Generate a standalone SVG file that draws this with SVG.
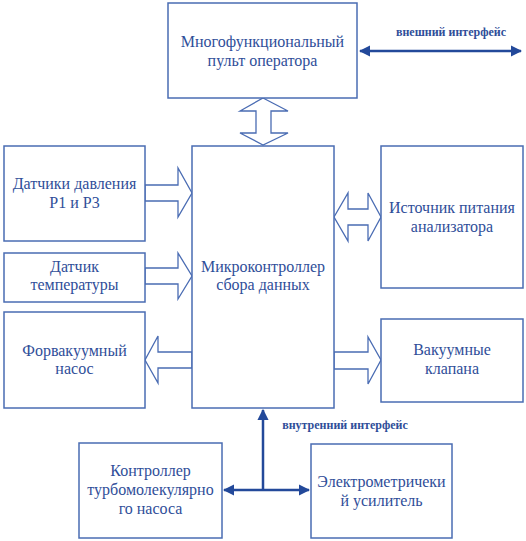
<svg xmlns="http://www.w3.org/2000/svg" width="526" height="541" viewBox="0 0 526 541">
<style>
.box{fill:#fff;stroke:#4a6cb3;stroke-width:1.5}
.harrow{fill:#fff;stroke:#4a6cb3;stroke-width:1.3;stroke-linejoin:miter}
.t{font-family:'Liberation Serif','DejaVu Serif',serif;font-size:16px;fill:#2f4e99;text-anchor:middle}
.lbl{font-family:'Liberation Serif','DejaVu Serif',serif;font-size:12px;font-weight:bold;fill:#2f4e99;text-anchor:middle}
.line{stroke:#23499a;stroke-width:2.5;fill:none}
</style>
<defs>
<marker id="ah" viewBox="0 0 10 10" refX="9" refY="5" markerWidth="4.5" markerHeight="4.5" markerUnits="strokeWidth" orient="auto-start-reverse">
<path d="M0,0 L10,5 L0,10 z" fill="#23499a"/>
</marker>
</defs>
<g id="connectors">
<polygon class="harrow" points="263,98 288,111 271,111 271,133 288,133 263,145 240,133 256,133 256,111 240,111"/>
<polygon class="harrow" points="334,217 348,193 348,209 368,209 368,193 381,217 368,241 368,225 348,225 348,241"/>
<polygon class="harrow" points="145,185 178,185 178,168 192,193 178,217 178,201 145,201"/>
<polygon class="harrow" points="145,268 178,268 178,253 192,276 178,299 178,284 145,284"/>
<polygon class="harrow" points="192,352 158,352 158,336 145,360 158,383 158,368 192,368"/>
<polygon class="harrow" points="334,352 368,352 368,337 381,360 368,384 368,369 334,369"/>
<line class="line" x1="360" y1="51" x2="521" y2="51" marker-start="url(#ah)" marker-end="url(#ah)"/>
<line class="line" x1="263" y1="490" x2="263" y2="410" marker-end="url(#ah)"/>
<line class="line" x1="224" y1="490" x2="309" y2="490" marker-start="url(#ah)" marker-end="url(#ah)"/>
<text class="lbl" x="451" y="36">внешний интерфейс</text>
<text class="lbl" x="345" y="429">внутренний интерфейс</text>
</g>
<g id="pult">
<rect class="box" x="168" y="3" width="189" height="95"/>
<text class="t" x="262.5" y="47">Многофункциональный</text>
<text class="t" x="262.5" y="66">пульт оператора</text>
</g>
<g id="micro">
<rect class="box" x="192" y="146" width="142" height="262"/>
<text class="t" x="263" y="272">Микроконтроллер</text>
<text class="t" x="263" y="290">сбора данных</text>
</g>
<g id="datchiki">
<rect class="box" x="4" y="146" width="141" height="95"/>
<text class="t" x="74.5" y="189">Датчики давления</text>
<text class="t" x="74.5" y="208">Р1 и Р3</text>
</g>
<g id="temp">
<rect class="box" x="4" y="253" width="141" height="49"/>
<text class="t" x="74.5" y="272">Датчик</text>
<text class="t" x="74.5" y="290">температуры</text>
</g>
<g id="forvak">
<rect class="box" x="4" y="312" width="141" height="96"/>
<text class="t" x="74.5" y="356">Форвакуумный</text>
<text class="t" x="74.5" y="374">насос</text>
</g>
<g id="istochnik">
<rect class="box" x="381" y="146" width="142" height="142"/>
<text class="t" x="452" y="213">Источник питания</text>
<text class="t" x="452" y="232">анализатора</text>
</g>
<g id="klapana">
<rect class="box" x="381" y="319" width="142" height="83"/>
<text class="t" x="452" y="355">Вакуумные</text>
<text class="t" x="452" y="374">клапана</text>
</g>
<g id="turbo">
<rect class="box" x="79" y="443" width="143" height="95"/>
<text class="t" x="150.5" y="476">Контроллер</text>
<text class="t" x="150.5" y="495">турбомолекулярно</text>
<text class="t" x="150.5" y="514">го насоса</text>
</g>
<g id="elektro">
<rect class="box" x="311" y="444" width="141" height="94"/>
<text class="t" x="381.5" y="487">Электрометричеки</text>
<text class="t" x="381.5" y="506">й усилитель</text>
</g>
</svg>
